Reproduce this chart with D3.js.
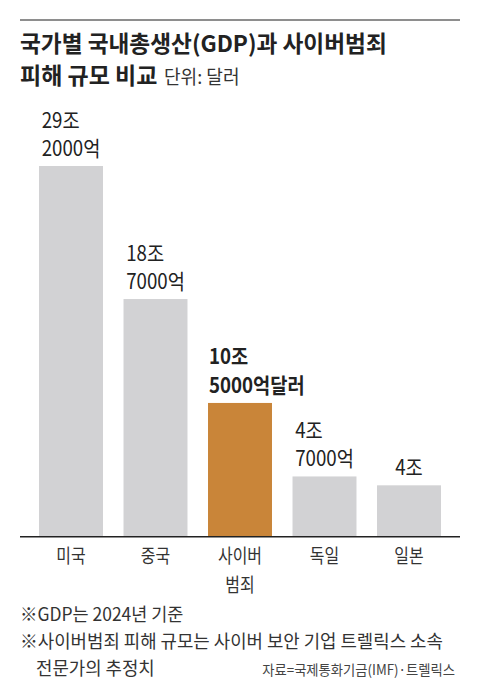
<!DOCTYPE html>
<html>
<head>
<meta charset="utf-8">
<script src="https://cdn.jsdelivr.net/npm/d3@7"></script>
<style>
  body { margin: 0; background: #fff; }
  text { font-family: "Noto Sans CJK KR", "Noto Sans", sans-serif; fill: #222; }
</style>
</head>
<body>
<div id="chart"></div>
<script>
// data (단위: 조 달러)
var categories = ['미국', '중국', '사이버\n범죄', '독일', '일본'];
var values = [29.2, 18.7, 10.5, 4.7, 4.0];
var valueLabels = ['29조\n2000억', '18조\n7000억', '10조\n5000억달러', '4조\n7000억', '4조'];
var highlight = 2;

var width = 480;
var height = 700;

var svg = d3.select('#chart')
    .append('svg')
    .attr('width', width)
    .attr('height', height);

// narrow a text element to mimic the condensed face
function narrow(sel, k) {
    sel.each(function() {
        var w = this.getComputedTextLength();
        d3.select(this)
            .attr('textLength', w * k)
            .attr('lengthAdjust', 'spacingAndGlyphs');
    });
}

// top rule
svg.append('rect')
    .attr('x', 20).attr('y', 19)
    .attr('width', 440).attr('height', 2)
    .attr('fill', '#8e8e8e');

// title
svg.append('text')
    .attr('x', 20).attr('y', 52)
    .style('font-size', '23px')
    .style('font-weight', 700)
    .text('국가별 국내총생산(GDP)과 사이버범죄')
    .call(narrow, 0.985);

svg.append('text')
    .attr('x', 20).attr('y', 84)
    .style('font-size', '23px')
    .style('font-weight', 700)
    .text('피해 규모 비교')
    .call(narrow, 1.0);

svg.append('text')
    .attr('x', 164).attr('y', 84)
    .style('font-size', '19px')
    .style('fill', '#333')
    .text('단위: 달러')
    .call(narrow, 0.95);

// scales
var baseY = 536;
var x = d3.scaleBand()
    .domain(categories)
    .range([20, 460])
    .paddingInner(0.243)
    .paddingOuter(0.225);

var y = d3.scaleLinear()
    .domain([0, 29.2])
    .range([baseY, 166]);

// bars
svg.selectAll('rect.bar')
    .data(values)
    .enter()
    .append('rect')
    .attr('class', 'bar')
    .attr('x', function(d, i) { return x(categories[i]); })
    .attr('y', function(d) { return y(d); })
    .attr('width', x.bandwidth())
    .attr('height', function(d) { return baseY - y(d); })
    .attr('fill', function(d, i) { return i === highlight ? '#c98539' : '#d2d2d4'; });

// value labels: block centred on bar, lines left aligned, never left of the bar
var lineH = 28.5;
values.forEach(function(v, i) {
    var lines = valueLabels[i].split('\n');
    var g = svg.append('g');
    var texts = g.selectAll('text')
        .data(lines)
        .enter()
        .append('text')
        .attr('y', function(d, j) { return y(v) - 10 - (lines.length - 1 - j) * lineH; })
        .style('font-size', '21px')
        .style('font-weight', i === highlight ? 700 : 400)
        .style('fill', '#222')
        .text(function(d) { return d; })
        .call(narrow, 0.89);
    var w = d3.max(texts.nodes(), function(n) { return +n.getAttribute('textLength'); });
    var cx = x(categories[i]) + x.bandwidth() / 2;
    var left = Math.max(x(categories[i]) + 1, cx - w / 2);
    texts.attr('x', left);
});

// axis line
svg.append('rect')
    .attr('x', 20).attr('y', baseY)
    .attr('width', 440).attr('height', 1.5)
    .attr('fill', '#222');

// category labels
categories.forEach(function(c) {
    svg.append('g').selectAll('text')
        .data(c.split('\n'))
        .enter()
        .append('text')
        .attr('x', x(c) + x.bandwidth() / 2)
        .attr('y', function(d, j) { return 563 + j * 28.5; })
        .attr('text-anchor', 'middle')
        .style('font-size', '19px')
        .style('fill', '#333')
        .text(function(d) { return d; })
        .call(narrow, 0.84);
});

// notes
svg.append('text')
    .attr('x', 20).attr('y', 621)
    .style('font-size', '18px')
    .style('fill', '#333')
    .text('※GDP는 2024년 기준')
    .call(narrow, 0.97);

svg.append('text')
    .attr('x', 20).attr('y', 648)
    .style('font-size', '18px')
    .style('fill', '#333')
    .text('※사이버범죄 피해 규모는 사이버 보안 기업 트렐릭스 소속')
    .call(narrow, 0.99);

svg.append('text')
    .attr('x', 36).attr('y', 675)
    .style('font-size', '18px')
    .style('fill', '#333')
    .text('전문가의 추정치')
    .call(narrow, 0.99);

svg.append('text')
    .attr('x', 455).attr('y', 675)
    .attr('text-anchor', 'end')
    .style('font-size', '14px')
    .style('fill', '#444')
    .text('자료=국제통화기금(IMF)·트렐릭스')
    .call(narrow, 0.95);
</script>
</body>
</html>
